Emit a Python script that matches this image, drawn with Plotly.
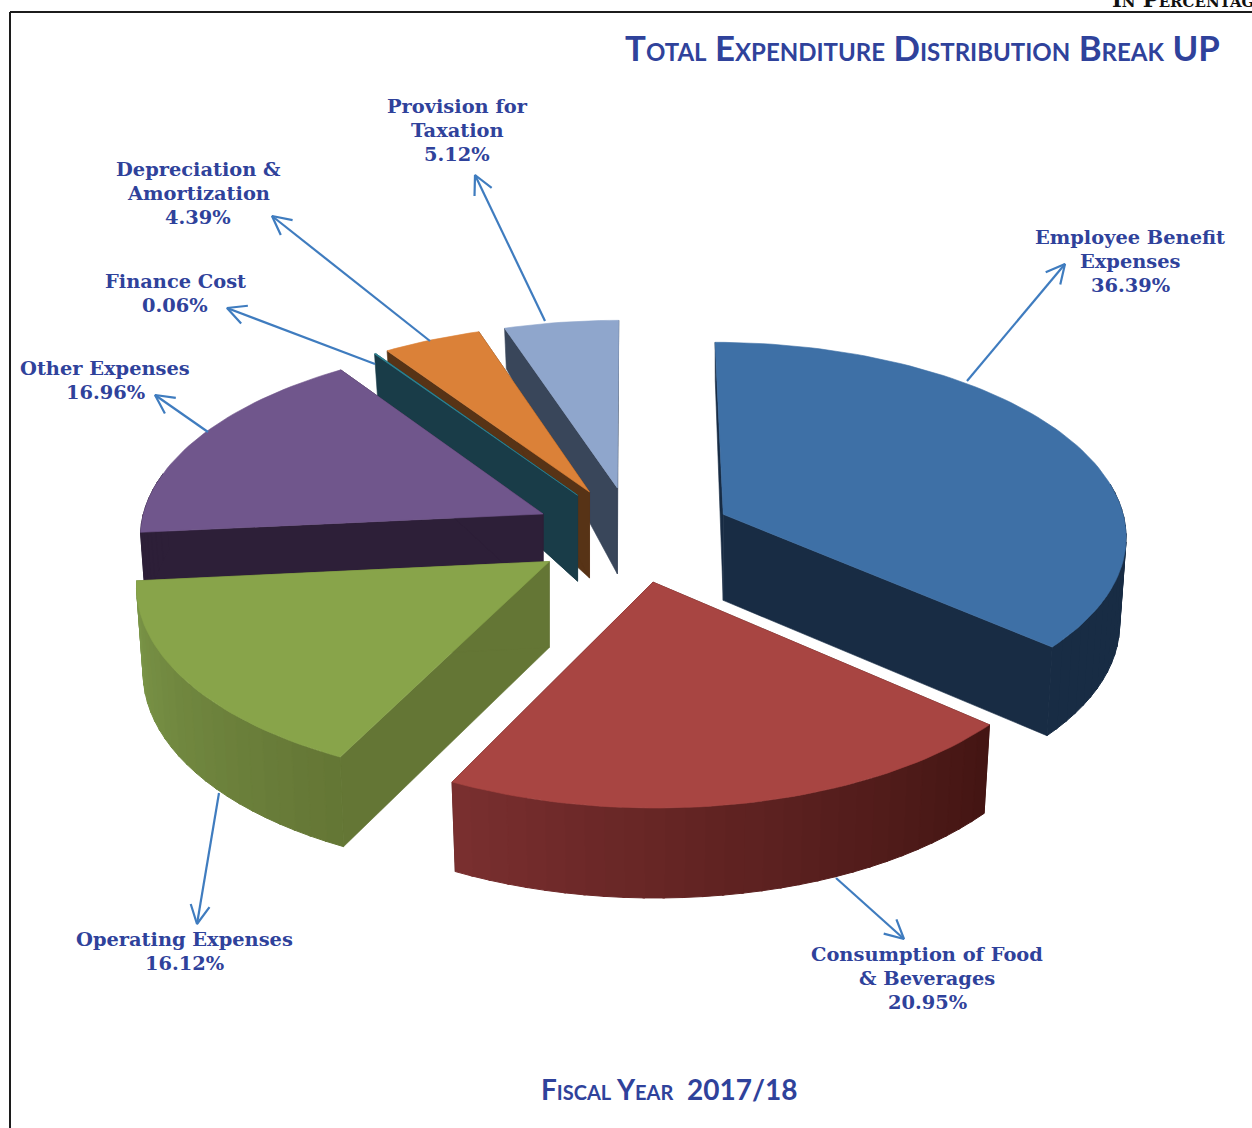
import math
import plotly.graph_objects as go

# Expenditure shares, fiscal year 2017/18 (percent)
labels = ["Employee Benefit\nExpenses", "Consumption of Food\n& Beverages", "Operating Expenses",
          "Other Expenses", "Finance Cost", "Depreciation &\nAmortization", "Provision for\nTaxation"]
values = [36.39, 20.95, 16.12, 16.96, 0.06, 4.39, 5.12]

top_colors = ["#3E70A6", "#A84542", "#88A44A", "#70568C", "#2E8796", "#DB8138", "#8FA6CC"]
wall_colors = ["#182C44", "#431513", "#647635", "#2D1F38", "#193C48", "#573316", "#39465A"]
rim_start = ["#182C44", "#431513", "#647635", "#2D1F38", "#193C48", "#573316", "#39465A"]
rim_end = ["#182C44", "#7A2F2F", "#7B9648", "#2D1F38", "#193C48", "#573316", "#39465A"]

# Back-to-front drawing order for the exploded slices
draw_order = [6, 5, 4, 3, 2, 0, 1]

label_centers = [(1130, 261), (927, 978), (184, 951), (105, 380), (175, 293), (198, 193), (457, 130)]
leaders = [((967, 381), (1065, 264)), ((836, 878), (904, 939)), ((219, 793), (197, 924)),
           ((208, 432), (155, 395)), ((375, 364), (227, 308)), ((430, 341), (272, 216)),
           ((545, 321), (475, 175))]

# Projection of the pie plane on the page
CX, CY, SX, SY, PERSP = 633, 534, 404, 193, 0.10
EXPLODE, THICK, SHRINK = 0.248, 86, 0.984
INK, LEADER = "#2F429B", "#3F7CBF"


def project(u, v):
    s = 1 / (1 - PERSP * v)
    return CX + SX * u * s, CY + SY * v * s


def mix(a, b, t):
    ca = [int(a[i:i + 2], 16) for i in (1, 3, 5)]
    cb = [int(b[i:i + 2], 16) for i in (1, 3, 5)]
    return "#%02x%02x%02x" % tuple(round(p + (q - p) * t) for p, q in zip(ca, cb))


def face(xs, ys, color, width=0.6):
    return go.Scatter(x=xs + xs[:1], y=ys + ys[:1], mode="lines", fill="toself", fillcolor=color,
                      line=dict(color=color, width=width), hoverinfo="skip", showlegend=False)


def rim_point(deg, mid):
    t, m = math.radians(deg), math.radians(mid)
    return project(math.sin(t) + EXPLODE * math.sin(m), -math.cos(t) - EXPLODE * math.cos(m))


def lowered(pt, apex, deg):
    c = math.cos(math.radians(deg))
    drop = THICK - 48 * c if c > 0 else THICK - 4 * c
    return apex[0] + (pt[0] - apex[0]) * SHRINK, pt[1] + drop


def lowered_apex(apex):
    return apex[0], apex[1] + THICK


fig = go.Figure()
total = sum(values)
starts, acc = [], 0.0
for val in values:
    starts.append(acc)
    acc += val / total * 360

for i in draw_order:
    a0, a1 = starts[i], starts[i] + values[i] / total * 360
    mid = (a0 + a1) / 2
    m = math.radians(mid)
    apex = project(EXPLODE * math.sin(m), -EXPLODE * math.cos(m))
    low_apex = lowered_apex(apex)

    # Cut walls at both ends of the slice
    for a in (a0, a1):
        p = rim_point(a, mid)
        q = lowered(p, apex, a)
        fig.add_trace(face([apex[0], p[0], q[0], low_apex[0]], [apex[1], p[1], q[1], low_apex[1]], wall_colors[i]))

    # Outer rim, shaded across the arc
    steps = max(2, int((a1 - a0) / 2.5))
    if i == 0 or (math.cos(math.radians(a0)) < 0.2 or math.cos(math.radians(a1)) < 0.2):
        for k in range(steps):
            b0 = a0 + (a1 - a0) * k / steps
            b1 = a0 + (a1 - a0) * (k + 1) / steps + 0.3
            if math.cos(math.radians(b0)) > 0.2:
                continue
            p0, p1 = rim_point(b0, mid), rim_point(min(b1, a1), mid)
            q0, q1 = lowered(p0, apex, b0), lowered(p1, apex, min(b1, a1))
            fig.add_trace(face([p0[0], p1[0], q1[0], q0[0]], [p0[1], p1[1], q1[1], q0[1]],
                               mix(rim_start[i], rim_end[i], (k + 0.5) / steps), width=1))

    # Top face
    n = max(2, int((a1 - a0) / 1.5))
    arc = [rim_point(a0 + (a1 - a0) * k / n, mid) for k in range(n + 1)]
    fig.add_trace(face([apex[0]] + [p[0] for p in arc], [apex[1]] + [p[1] for p in arc], top_colors[i]))


# Leader lines with open arrowheads
def leader_trace(tail, tip):
    ang = math.atan2(tail[1] - tip[1], tail[0] - tip[0])
    arm = 21
    w1 = (tip[0] + arm * math.cos(ang + 0.47), tip[1] + arm * math.sin(ang + 0.47))
    w2 = (tip[0] + arm * math.cos(ang - 0.47), tip[1] + arm * math.sin(ang - 0.47))
    return go.Scatter(x=[tail[0], tip[0], None, w1[0], tip[0], w2[0]],
                      y=[tail[1], tip[1], None, w1[1], tip[1], w2[1]],
                      mode="lines", line=dict(color=LEADER, width=2.2), hoverinfo="skip", showlegend=False)


for tail, tip in leaders:
    fig.add_trace(leader_trace(tail, tip))

notes = []
LINE = 24
for text, val, (cx, cy) in zip(labels, values, label_centers):
    rows = text.split("\n") + [f"{val:.2f}%"]
    y0 = cy - LINE * (len(rows) - 1) / 2
    for r, row in enumerate(rows):
        notes.append(dict(x=cx, y=y0 + r * LINE, text=row, showarrow=False, xanchor="center", yanchor="middle",
                          font=dict(family="DejaVu Serif", size=19.4, color=INK, weight="bold")))

notes.append(dict(x=922, y=47, text="Total Expenditure Distribution Break UP", showarrow=False,
                  font=dict(family="Lato", size=34.8, color=INK, weight="bold", variant="small-caps")))
notes.append(dict(x=669, y=1089, text="Fiscal Year\u00a0\u00a02017/18", showarrow=False,
                  font=dict(family="Lato", size=28, color=INK, weight="bold", variant="small-caps")))
notes.append(dict(x=1110, y=0, yshift=1, text="In Percentage", showarrow=False, xanchor="left", yanchor="middle",
                  font=dict(family="DejaVu Serif", size=21, color="#111111", weight="bold", variant="small-caps")))

fig.update_layout(
    width=1252, height=1128, margin=dict(l=0, r=0, t=0, b=0),
    paper_bgcolor="white", plot_bgcolor="white", showlegend=False,
    xaxis=dict(range=[0, 1252], visible=False, fixedrange=True),
    yaxis=dict(range=[1128, 0], visible=False, fixedrange=True),
    annotations=notes,
    shapes=[
        dict(type="line", x0=10, x1=1252, y0=12, y1=12, line=dict(color="#1c1c1c", width=2)),
        dict(type="line", x0=10, x1=10, y0=12, y1=1128, line=dict(color="#1c1c1c", width=2)),
    ],
)

fig.write_html("out.html")
